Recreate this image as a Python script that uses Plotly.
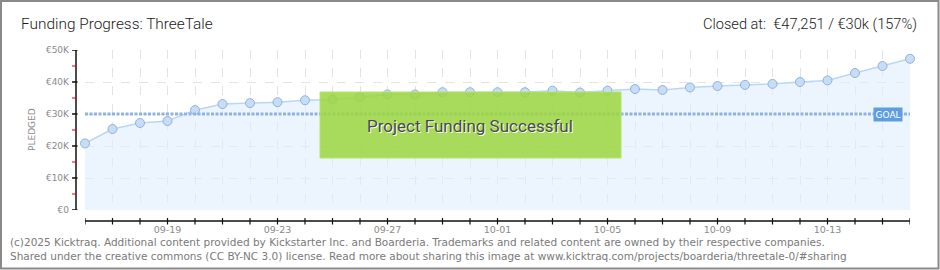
import plotly.graph_objects as go

# ---------------- data ----------------
dates = [
    "2025-09-16", "2025-09-17", "2025-09-18", "2025-09-19", "2025-09-20",
    "2025-09-21", "2025-09-22", "2025-09-23", "2025-09-24", "2025-09-25",
    "2025-09-26", "2025-09-27", "2025-09-28", "2025-09-29", "2025-09-30",
    "2025-10-01", "2025-10-02", "2025-10-03", "2025-10-04", "2025-10-05",
    "2025-10-06", "2025-10-07", "2025-10-08", "2025-10-09", "2025-10-10",
    "2025-10-11", "2025-10-12", "2025-10-13", "2025-10-14", "2025-10-15",
    "2025-10-16",
]
pledged = [
    20800, 25300, 27200, 27800, 31200,
    33100, 33400, 33700, 34300, 34500,
    35300, 36100, 36100, 36800, 36800,
    36800, 36800, 37300, 36700, 37300,
    37800, 37500, 38300, 38750, 39100,
    39400, 40000, 40500, 42800, 45000,
    47251,
]
goal = 30000
x_labels = {"2025-09-19": "09-19", "2025-09-23": "09-23", "2025-09-27": "09-27",
            "2025-10-01": "10-01", "2025-10-05": "10-05", "2025-10-09": "10-09",
            "2025-10-13": "10-13"}
y_tickvals = [0, 10000, 20000, 30000, 40000, 50000]
y_ticktext = ["€0", "€10K", "€20K", "€30K", "€40K", "€50K"]
y_minor = [5000, 15000, 25000, 35000, 45000]

title_text = "Funding Progress: ThreeTale"
closed_text = "Closed at:  €47,251 / €30k (157%)"
footer1 = ("(c)2025 Kicktraq. Additional content provided by Kickstarter Inc. and Boarderia. "
           "Trademarks and related content are owned by their respective companies.")
footer2 = ("Shared under the creative commons (CC BY-NC 3.0) license. Read more about sharing "
           "this image at www.kicktraq.com/projects/boarderia/threetale-0/#sharing")

# ---------------- geometry helpers ----------------
W, H = 940, 270
L, R, T, B = 85, 30, 50, 60
PW, PH = W - L - R, H - T - B


def px(xp):
    return (xp - L) / PW


def py(yp):
    return 1 - (yp - T) / PH


fig = go.Figure()

fig.add_trace(go.Scatter(
    x=dates, y=pledged, mode="lines+markers",
    line=dict(color="#b9d7f5", width=1.5),
    fill="tozeroy", fillcolor="rgba(224,237,252,0.6)",
    marker=dict(size=9, color="#c5ddf7", line=dict(color="#93b3d8", width=1)),
    cliponaxis=False, hoverinfo="x+y", showlegend=False,
))

shapes = []
# goal line
shapes.append(dict(type="line", xref="paper", yref="y", x0=0, x1=1, y0=goal, y1=goal,
                   line=dict(color="#8fb3e1", width=3, dash="3px,1.5px"), layer="above"))
# y axis line + ticks (offset left of plot)
shapes.append(dict(type="line", xref="paper", yref="y", x0=px(76), x1=px(76), y0=0, y1=50000,
                   line=dict(color="#111", width=1.5)))
for v in y_tickvals:
    shapes.append(dict(type="line", xref="paper", yref="y", x0=px(72), x1=px(77.5), y0=v, y1=v,
                       line=dict(color="#111", width=1.5)))
for v in y_minor:
    shapes.append(dict(type="line", xref="paper", yref="y", x0=px(72), x1=px(76), y0=v, y1=v,
                       line=dict(color="#e00000", width=1)))
# x axis line + ticks (offset below plot)
shapes.append(dict(type="line", xref="x", yref="paper", x0=dates[0], x1=dates[-1],
                   y0=py(221), y1=py(221), line=dict(color="#111", width=1.5)))
for d in dates:
    shapes.append(dict(type="line", xref="x", yref="paper", x0=d, x1=d,
                       y0=py(218), y1=py(224.5), line=dict(color="#111", width=1.2)))
# success box
shapes.append(dict(type="rect", xref="paper", yref="paper", x0=px(320), x1=px(621),
                   y0=py(158), y1=py(92), fillcolor="rgba(156,214,62,0.85)",
                   line=dict(color="rgba(180,228,110,1)", width=1), layer="above"))
# image frame
shapes.append(dict(type="rect", xref="paper", yref="paper", x0=px(1), x1=px(938.5),
                   y0=py(268.5), y1=py(1), line=dict(color="#8a8a8a", width=2),
                   fillcolor="rgba(0,0,0,0)"))

annotations = [
    dict(text=title_text, xref="paper", yref="paper", x=px(19), y=py(24),
         xanchor="left", yanchor="middle", showarrow=False,
         font=dict(family="Roboto", size=15.4, color="#1a1a1a", weight=300)),
    dict(text=closed_text, xref="paper", yref="paper", x=px(919), y=py(24),
         xanchor="right", yanchor="middle", showarrow=False,
         font=dict(family="Roboto", size=14.6, color="#1a1a1a", weight=300)),
    dict(text="PLEDGED", xref="paper", yref="paper", x=px(32), y=py(130),
         xanchor="center", yanchor="middle", showarrow=False, textangle=-90,
         font=dict(family="DejaVu Sans", size=9, color="#8a8a8a")),
    dict(text="Project Funding Successful", xref="paper", yref="paper", x=px(470), y=py(126),
         xanchor="center", yanchor="middle", showarrow=False,
         font=dict(family="Roboto", size=17, color="#4a4a4a", shadow="1px 1px 0px #ffffff")),
    dict(text="GOAL", xref="paper", yref="y", x=px(888), y=goal,
         xanchor="center", yanchor="middle", showarrow=False,
         bgcolor="#5d9de0", borderpad=1.5,
         font=dict(family="DejaVu Sans", size=9, color="#ffffff")),
    dict(text=footer1, xref="paper", yref="paper", x=px(8), y=py(242),
         xanchor="left", yanchor="middle", showarrow=False,
         font=dict(family="DejaVu Sans", size=10.5, color="#7a7a7a")),
    dict(text=footer2, xref="paper", yref="paper", x=px(8), y=py(256),
         xanchor="left", yanchor="middle", showarrow=False,
         font=dict(family="DejaVu Sans", size=10.5, color="#7a7a7a")),
]

fig.update_layout(
    width=W, height=H, margin=dict(l=L, r=R, t=T, b=B),
    paper_bgcolor="#ffffff", plot_bgcolor="#ffffff",
    shapes=shapes, annotations=annotations, showlegend=False,
    xaxis=dict(
        type="date", range=[dates[0], dates[-1]],
        tickvals=dates, ticktext=[x_labels.get(d, "") for d in dates],
        showgrid=True, gridcolor="#e3e3e3", griddash="dash", gridwidth=1,
        zeroline=False, showline=False, ticks="",
        ticklabelstandoff=12,
        tickfont=dict(family="DejaVu Sans", size=9.5, color="#8a8a8a"),
    ),
    yaxis=dict(
        range=[0, 50000], tickvals=y_tickvals, ticktext=y_ticktext,
        showgrid=True, gridcolor="#e3e3e3", griddash="dash", gridwidth=1,
        zeroline=False, showline=False, ticks="",
        ticklabelstandoff=15,
        tickfont=dict(family="DejaVu Sans", size=9, color="#8a8a8a"),
    ),
)

fig.write_html("out.html")
